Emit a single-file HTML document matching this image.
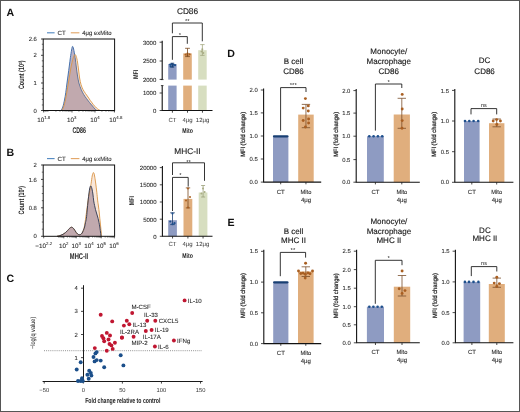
<!DOCTYPE html>
<html><head><meta charset="utf-8"><style>
html,body{margin:0;padding:0;background:#fff;}
svg{display:block;font-family:"Liberation Sans", sans-serif;will-change:transform;text-rendering:geometricPrecision;}
</style></head><body>
<svg width="520" height="412" viewBox="0 0 520 412">
<rect x="0" y="0" width="520" height="412" fill="#fff"/>
<text x="6.6" y="16.2" font-size="10.6" font-weight="bold" fill="#111">A</text>
<text x="6.6" y="155.9" font-size="10.6" font-weight="bold" fill="#111">B</text>
<text x="6.4" y="282.2" font-size="10.6" font-weight="bold" fill="#111">C</text>
<text x="227.2" y="56.6" font-size="10.6" font-weight="bold" fill="#111">D</text>
<text x="227.6" y="225.9" font-size="10.6" font-weight="bold" fill="#111">E</text>
<line x1="47" y1="32.8" x2="54.6" y2="32.8" stroke="#4f86c0" stroke-width="1.1"/>
<text x="57.6" y="35.03" font-size="6.2" text-anchor="start" fill="#2a2a2a" font-weight="normal" stroke="#2a2a2a" stroke-width="0.08">CT</text>
<line x1="70.8" y1="32.8" x2="79.4" y2="32.8" stroke="#e2a464" stroke-width="1.1"/>
<text x="82.3" y="35.03" font-size="6.2" text-anchor="start" fill="#2a2a2a" font-weight="normal" textLength="29.3" lengthAdjust="spacingAndGlyphs" stroke="#2a2a2a" stroke-width="0.08">4μg exMito</text>
<path d="M61.00,110.50 C61.30,109.92 62.22,108.75 62.80,107.00 C63.38,105.25 64.00,102.43 64.50,100.00 C65.00,97.57 65.38,95.23 65.80,92.40 C66.22,89.57 66.62,85.90 67.00,83.00 C67.38,80.10 67.72,77.83 68.10,75.00 C68.48,72.17 68.92,68.92 69.30,66.00 C69.68,63.08 70.02,60.17 70.40,57.50 C70.78,54.83 71.25,51.85 71.60,50.00 C71.95,48.15 72.17,46.57 72.50,46.40 C72.83,46.23 73.17,47.15 73.60,49.00 C74.03,50.85 74.65,54.50 75.10,57.50 C75.55,60.50 75.92,64.08 76.30,67.00 C76.68,69.92 76.97,72.33 77.40,75.00 C77.83,77.67 78.27,80.58 78.90,83.00 C79.53,85.42 80.40,87.58 81.20,89.50 C82.00,91.42 82.82,92.98 83.70,94.50 C84.58,96.02 85.53,97.27 86.50,98.60 C87.47,99.93 88.50,101.27 89.50,102.50 C90.50,103.73 91.53,104.87 92.50,106.00 C93.47,107.13 94.55,108.55 95.30,109.30 C96.05,110.05 96.72,110.30 97.00,110.50 Z" fill="rgba(110,95,140,0.48)"/>
<path d="M61.00,110.50 C61.30,109.92 62.22,108.75 62.80,107.00 C63.38,105.25 64.00,102.43 64.50,100.00 C65.00,97.57 65.38,95.23 65.80,92.40 C66.22,89.57 66.62,85.90 67.00,83.00 C67.38,80.10 67.72,77.83 68.10,75.00 C68.48,72.17 68.92,68.92 69.30,66.00 C69.68,63.08 70.02,60.17 70.40,57.50 C70.78,54.83 71.25,51.85 71.60,50.00 C71.95,48.15 72.17,46.57 72.50,46.40 C72.83,46.23 73.17,47.15 73.60,49.00 C74.03,50.85 74.65,54.50 75.10,57.50 C75.55,60.50 75.92,64.08 76.30,67.00 C76.68,69.92 76.97,72.33 77.40,75.00 C77.83,77.67 78.27,80.58 78.90,83.00 C79.53,85.42 80.40,87.58 81.20,89.50 C82.00,91.42 82.82,92.98 83.70,94.50 C84.58,96.02 85.53,97.27 86.50,98.60 C87.47,99.93 88.50,101.27 89.50,102.50 C90.50,103.73 91.53,104.87 92.50,106.00 C93.47,107.13 94.55,108.55 95.30,109.30 C96.05,110.05 96.72,110.30 97.00,110.50 " fill="none" stroke="#3566a6" stroke-width="0.9"/>
<path d="M62.00,110.50 C62.28,109.83 63.12,108.33 63.70,106.50 C64.28,104.67 64.92,102.25 65.50,99.50 C66.08,96.75 66.63,93.25 67.20,90.00 C67.77,86.75 68.35,83.33 68.90,80.00 C69.45,76.67 69.98,72.92 70.50,70.00 C71.02,67.08 71.50,64.67 72.00,62.50 C72.50,60.33 73.00,58.32 73.50,57.00 C74.00,55.68 74.53,54.68 75.00,54.60 C75.47,54.52 75.88,55.27 76.30,56.50 C76.72,57.73 77.12,59.75 77.50,62.00 C77.88,64.25 78.25,67.33 78.60,70.00 C78.95,72.67 79.20,75.58 79.60,78.00 C80.00,80.42 80.43,82.58 81.00,84.50 C81.57,86.42 82.25,88.00 83.00,89.50 C83.75,91.00 84.67,92.25 85.50,93.50 C86.33,94.75 87.20,95.83 88.00,97.00 C88.80,98.17 89.42,99.25 90.30,100.50 C91.18,101.75 92.27,103.25 93.30,104.50 C94.33,105.75 95.38,107.00 96.50,108.00 C97.62,109.00 99.42,110.08 100.00,110.50 Z" fill="rgba(225,135,70,0.2)"/>
<path d="M62.00,110.50 C62.28,109.83 63.12,108.33 63.70,106.50 C64.28,104.67 64.92,102.25 65.50,99.50 C66.08,96.75 66.63,93.25 67.20,90.00 C67.77,86.75 68.35,83.33 68.90,80.00 C69.45,76.67 69.98,72.92 70.50,70.00 C71.02,67.08 71.50,64.67 72.00,62.50 C72.50,60.33 73.00,58.32 73.50,57.00 C74.00,55.68 74.53,54.68 75.00,54.60 C75.47,54.52 75.88,55.27 76.30,56.50 C76.72,57.73 77.12,59.75 77.50,62.00 C77.88,64.25 78.25,67.33 78.60,70.00 C78.95,72.67 79.20,75.58 79.60,78.00 C80.00,80.42 80.43,82.58 81.00,84.50 C81.57,86.42 82.25,88.00 83.00,89.50 C83.75,91.00 84.67,92.25 85.50,93.50 C86.33,94.75 87.20,95.83 88.00,97.00 C88.80,98.17 89.42,99.25 90.30,100.50 C91.18,101.75 92.27,103.25 93.30,104.50 C94.33,105.75 95.38,107.00 96.50,108.00 C97.62,109.00 99.42,110.08 100.00,110.50 " fill="none" stroke="#d99445" stroke-width="0.9"/>
<rect x="43.2" y="39.0" width="71.39999999999999" height="71.5" fill="none" stroke="#111" stroke-width="1"/>
<line x1="41.0" y1="110.5" x2="43.2" y2="110.5" stroke="#1a1a1a" stroke-width="0.8"/>
<text x="36.900000000000006" y="112.62" font-size="5.9" text-anchor="end" fill="#2a2a2a" font-weight="normal" stroke="#2a2a2a" stroke-width="0.08">0</text>
<line x1="41.0" y1="83" x2="43.2" y2="83" stroke="#1a1a1a" stroke-width="0.8"/>
<text x="36.900000000000006" y="85.12" font-size="5.9" text-anchor="end" fill="#2a2a2a" font-weight="normal" stroke="#2a2a2a" stroke-width="0.08">1</text>
<line x1="41.0" y1="55.3" x2="43.2" y2="55.3" stroke="#1a1a1a" stroke-width="0.8"/>
<text x="36.900000000000006" y="57.42" font-size="5.9" text-anchor="end" fill="#2a2a2a" font-weight="normal" stroke="#2a2a2a" stroke-width="0.08">2</text>
<line x1="41.0" y1="39.0" x2="43.2" y2="39.0" stroke="#1a1a1a" stroke-width="0.8"/>
<text x="36.900000000000006" y="41.12" font-size="5.9" text-anchor="end" fill="#2a2a2a" font-weight="normal" stroke="#2a2a2a" stroke-width="0.08">2.6</text>
<line x1="41.800000000000004" y1="104.98" x2="43.2" y2="104.98" stroke="#1a1a1a" stroke-width="0.6"/>
<line x1="41.800000000000004" y1="99.46" x2="43.2" y2="99.46" stroke="#1a1a1a" stroke-width="0.6"/>
<line x1="41.800000000000004" y1="93.94" x2="43.2" y2="93.94" stroke="#1a1a1a" stroke-width="0.6"/>
<line x1="41.800000000000004" y1="88.42" x2="43.2" y2="88.42" stroke="#1a1a1a" stroke-width="0.6"/>
<line x1="41.800000000000004" y1="77.38" x2="43.2" y2="77.38" stroke="#1a1a1a" stroke-width="0.6"/>
<line x1="41.800000000000004" y1="71.86" x2="43.2" y2="71.86" stroke="#1a1a1a" stroke-width="0.6"/>
<line x1="41.800000000000004" y1="66.34" x2="43.2" y2="66.34" stroke="#1a1a1a" stroke-width="0.6"/>
<line x1="41.800000000000004" y1="60.81999999999999" x2="43.2" y2="60.81999999999999" stroke="#1a1a1a" stroke-width="0.6"/>
<line x1="41.800000000000004" y1="49.779999999999994" x2="43.2" y2="49.779999999999994" stroke="#1a1a1a" stroke-width="0.6"/>
<line x1="41.800000000000004" y1="44.260000000000005" x2="43.2" y2="44.260000000000005" stroke="#1a1a1a" stroke-width="0.6"/>
<line x1="43.89747875882381" y1="110.5" x2="43.89747875882381" y2="111.8" stroke="#1a1a1a" stroke-width="0.5"/>
<line x1="45.4372549203279" y1="110.5" x2="45.4372549203279" y2="111.8" stroke="#1a1a1a" stroke-width="0.5"/>
<line x1="46.77106970081471" y1="110.5" x2="46.77106970081471" y2="111.8" stroke="#1a1a1a" stroke-width="0.5"/>
<line x1="47.94757771710447" y1="110.5" x2="47.94757771710447" y2="111.8" stroke="#1a1a1a" stroke-width="0.5"/>
<line x1="55.92368990027157" y1="110.5" x2="55.92368990027157" y2="111.8" stroke="#1a1a1a" stroke-width="0.5"/>
<line x1="59.97378885855224" y1="110.5" x2="59.97378885855224" y2="111.8" stroke="#1a1a1a" stroke-width="0.5"/>
<line x1="62.84737980054314" y1="110.5" x2="62.84737980054314" y2="111.8" stroke="#1a1a1a" stroke-width="0.5"/>
<line x1="65.07631009972843" y1="110.5" x2="65.07631009972843" y2="111.8" stroke="#1a1a1a" stroke-width="0.5"/>
<line x1="66.89747875882381" y1="110.5" x2="66.89747875882381" y2="111.8" stroke="#1a1a1a" stroke-width="0.5"/>
<line x1="68.4372549203279" y1="110.5" x2="68.4372549203279" y2="111.8" stroke="#1a1a1a" stroke-width="0.5"/>
<line x1="69.7710697008147" y1="110.5" x2="69.7710697008147" y2="111.8" stroke="#1a1a1a" stroke-width="0.5"/>
<line x1="70.94757771710448" y1="110.5" x2="70.94757771710448" y2="111.8" stroke="#1a1a1a" stroke-width="0.5"/>
<line x1="78.92368990027157" y1="110.5" x2="78.92368990027157" y2="111.8" stroke="#1a1a1a" stroke-width="0.5"/>
<line x1="82.97378885855224" y1="110.5" x2="82.97378885855224" y2="111.8" stroke="#1a1a1a" stroke-width="0.5"/>
<line x1="85.84737980054314" y1="110.5" x2="85.84737980054314" y2="111.8" stroke="#1a1a1a" stroke-width="0.5"/>
<line x1="88.07631009972843" y1="110.5" x2="88.07631009972843" y2="111.8" stroke="#1a1a1a" stroke-width="0.5"/>
<line x1="89.89747875882381" y1="110.5" x2="89.89747875882381" y2="111.8" stroke="#1a1a1a" stroke-width="0.5"/>
<line x1="91.4372549203279" y1="110.5" x2="91.4372549203279" y2="111.8" stroke="#1a1a1a" stroke-width="0.5"/>
<line x1="92.7710697008147" y1="110.5" x2="92.7710697008147" y2="111.8" stroke="#1a1a1a" stroke-width="0.5"/>
<line x1="93.94757771710448" y1="110.5" x2="93.94757771710448" y2="111.8" stroke="#1a1a1a" stroke-width="0.5"/>
<line x1="101.92368990027157" y1="110.5" x2="101.92368990027157" y2="111.8" stroke="#1a1a1a" stroke-width="0.5"/>
<line x1="105.97378885855224" y1="110.5" x2="105.97378885855224" y2="111.8" stroke="#1a1a1a" stroke-width="0.5"/>
<line x1="108.84737980054314" y1="110.5" x2="108.84737980054314" y2="111.8" stroke="#1a1a1a" stroke-width="0.5"/>
<line x1="111.07631009972843" y1="110.5" x2="111.07631009972843" y2="111.8" stroke="#1a1a1a" stroke-width="0.5"/>
<line x1="112.89747875882381" y1="110.5" x2="112.89747875882381" y2="111.8" stroke="#1a1a1a" stroke-width="0.5"/>
<line x1="114.4372549203279" y1="110.5" x2="114.4372549203279" y2="111.8" stroke="#1a1a1a" stroke-width="0.5"/>
<line x1="43.7" y1="110.5" x2="43.7" y2="112.5" stroke="#1a1a1a" stroke-width="0.7"/>
<text x="43.7" y="122.0" font-size="6.3" text-anchor="middle" fill="#2a2a2a" stroke="#2a2a2a" stroke-width="0.08">10<tspan font-size="4.3" dy="-2.7">1.8</tspan></text>
<line x1="72.0" y1="110.5" x2="72.0" y2="112.5" stroke="#1a1a1a" stroke-width="0.7"/>
<text x="71.6" y="122.0" font-size="6.3" text-anchor="middle" fill="#2a2a2a" stroke="#2a2a2a" stroke-width="0.08">10<tspan font-size="4.3" dy="-2.7">3</tspan></text>
<line x1="95.0" y1="110.5" x2="95.0" y2="112.5" stroke="#1a1a1a" stroke-width="0.7"/>
<text x="94.9" y="122.0" font-size="6.3" text-anchor="middle" fill="#2a2a2a" stroke="#2a2a2a" stroke-width="0.08">10<tspan font-size="4.3" dy="-2.7">4</tspan></text>
<line x1="114.4" y1="110.5" x2="114.4" y2="112.5" stroke="#1a1a1a" stroke-width="0.7"/>
<text x="115.8" y="122.0" font-size="6.3" text-anchor="middle" fill="#2a2a2a" stroke="#2a2a2a" stroke-width="0.08">10<tspan font-size="4.3" dy="-2.7">4.8</tspan></text>
<text x="79.1" y="132.89" font-size="8.3" text-anchor="middle" fill="#222" font-weight="bold" textLength="13.4" lengthAdjust="spacingAndGlyphs">CD86</text>
<text transform="translate(24.2,74.8) rotate(-90)" x="0" y="0" font-size="7.8" text-anchor="middle" fill="#222" font-weight="bold" textLength="28.5" lengthAdjust="spacingAndGlyphs">Count (10<tspan font-size="4.4" dy="-2.4">3</tspan><tspan dy="2.4">)</tspan></text>
<line x1="47" y1="158.6" x2="54.6" y2="158.6" stroke="#4f86c0" stroke-width="1.1"/>
<text x="57.6" y="160.83" font-size="6.2" text-anchor="start" fill="#2a2a2a" font-weight="normal" stroke="#2a2a2a" stroke-width="0.08">CT</text>
<line x1="70.8" y1="158.6" x2="79.4" y2="158.6" stroke="#e2a464" stroke-width="1.1"/>
<text x="82.3" y="160.83" font-size="6.2" text-anchor="start" fill="#2a2a2a" font-weight="normal" textLength="29.3" lengthAdjust="spacingAndGlyphs" stroke="#2a2a2a" stroke-width="0.08">4μg exMito</text>
<path d="M57.00,236.30 C57.50,236.18 59.00,235.93 60.00,235.60 C61.00,235.27 62.08,234.80 63.00,234.30 C63.92,233.80 64.75,233.22 65.50,232.60 C66.25,231.98 66.87,231.27 67.50,230.60 C68.13,229.93 68.80,229.10 69.30,228.60 C69.80,228.10 70.13,227.83 70.50,227.60 C70.87,227.37 71.15,227.20 71.50,227.20 C71.85,227.20 72.22,227.33 72.60,227.60 C72.98,227.87 73.40,228.30 73.80,228.80 C74.20,229.30 74.58,229.97 75.00,230.60 C75.42,231.23 75.87,232.03 76.30,232.60 C76.73,233.17 77.15,233.65 77.60,234.00 C78.05,234.35 78.52,234.62 79.00,234.70 C79.48,234.78 80.00,234.75 80.50,234.50 C81.00,234.25 81.53,233.87 82.00,233.20 C82.47,232.53 82.87,231.53 83.30,230.50 C83.73,229.47 84.23,228.33 84.60,227.00 C84.97,225.67 85.20,223.93 85.50,222.50 C85.80,221.07 86.12,220.48 86.40,218.40 C86.68,216.32 86.92,212.92 87.20,210.00 C87.48,207.08 87.80,203.73 88.10,200.90 C88.40,198.07 88.72,195.15 89.00,193.00 C89.28,190.85 89.53,189.17 89.80,188.00 C90.07,186.83 90.35,186.23 90.60,186.00 C90.85,185.77 91.07,186.10 91.30,186.60 C91.53,187.10 91.73,187.77 92.00,189.00 C92.27,190.23 92.62,192.02 92.90,194.00 C93.18,195.98 93.42,198.98 93.70,200.90 C93.98,202.82 94.30,204.05 94.60,205.50 C94.90,206.95 95.13,208.18 95.50,209.60 C95.87,211.02 96.37,212.53 96.80,214.00 C97.23,215.47 97.73,216.98 98.10,218.40 C98.47,219.82 98.72,221.07 99.00,222.50 C99.28,223.93 99.58,225.67 99.80,227.00 C100.02,228.33 100.15,229.43 100.30,230.50 C100.45,231.57 100.58,232.43 100.70,233.40 C100.82,234.37 100.95,235.82 101.00,236.30 Z" fill="rgba(110,95,140,0.48)"/>
<path d="M57.00,236.30 C57.50,236.18 59.00,235.93 60.00,235.60 C61.00,235.27 62.08,234.80 63.00,234.30 C63.92,233.80 64.75,233.22 65.50,232.60 C66.25,231.98 66.87,231.27 67.50,230.60 C68.13,229.93 68.80,229.10 69.30,228.60 C69.80,228.10 70.13,227.83 70.50,227.60 C70.87,227.37 71.15,227.20 71.50,227.20 C71.85,227.20 72.22,227.33 72.60,227.60 C72.98,227.87 73.40,228.30 73.80,228.80 C74.20,229.30 74.58,229.97 75.00,230.60 C75.42,231.23 75.87,232.03 76.30,232.60 C76.73,233.17 77.15,233.65 77.60,234.00 C78.05,234.35 78.52,234.62 79.00,234.70 C79.48,234.78 80.00,234.75 80.50,234.50 C81.00,234.25 81.53,233.87 82.00,233.20 C82.47,232.53 82.92,231.53 83.30,230.50 C83.68,229.47 83.93,228.83 84.30,227.00 C84.67,225.17 85.08,222.33 85.50,219.50 C85.92,216.67 86.38,213.08 86.80,210.00 C87.22,206.92 87.67,203.33 88.00,201.00 C88.33,198.67 88.48,197.75 88.80,196.00 C89.12,194.25 89.62,192.00 89.90,190.50 C90.18,189.00 90.30,188.17 90.50,187.00 C90.70,185.83 90.82,185.33 91.10,183.50 C91.38,181.67 91.88,177.72 92.20,176.00 C92.52,174.28 92.78,173.77 93.00,173.20 C93.22,172.63 93.30,172.47 93.50,172.60 C93.70,172.73 93.95,173.02 94.20,174.00 C94.45,174.98 94.73,176.83 95.00,178.50 C95.27,180.17 95.50,181.72 95.80,184.00 C96.10,186.28 96.48,189.38 96.80,192.20 C97.12,195.02 97.45,198.77 97.70,200.90 C97.95,203.03 98.10,203.55 98.30,205.00 C98.50,206.45 98.72,208.10 98.90,209.60 C99.08,211.10 99.25,212.53 99.40,214.00 C99.55,215.47 99.65,216.90 99.80,218.40 C99.95,219.90 100.15,221.57 100.30,223.00 C100.45,224.43 100.55,225.50 100.70,227.00 C100.85,228.50 101.05,230.45 101.20,232.00 C101.35,233.55 101.53,235.58 101.60,236.30 Z" fill="rgba(225,135,70,0.2)"/>
<path d="M57.00,236.30 C57.50,236.18 59.00,235.93 60.00,235.60 C61.00,235.27 62.08,234.80 63.00,234.30 C63.92,233.80 64.75,233.22 65.50,232.60 C66.25,231.98 66.87,231.27 67.50,230.60 C68.13,229.93 68.80,229.10 69.30,228.60 C69.80,228.10 70.13,227.83 70.50,227.60 C70.87,227.37 71.15,227.20 71.50,227.20 C71.85,227.20 72.22,227.33 72.60,227.60 C72.98,227.87 73.40,228.30 73.80,228.80 C74.20,229.30 74.58,229.97 75.00,230.60 C75.42,231.23 75.87,232.03 76.30,232.60 C76.73,233.17 77.15,233.65 77.60,234.00 C78.05,234.35 78.52,234.62 79.00,234.70 C79.48,234.78 80.00,234.75 80.50,234.50 C81.00,234.25 81.53,233.87 82.00,233.20 C82.47,232.53 82.92,231.53 83.30,230.50 C83.68,229.47 83.93,228.83 84.30,227.00 C84.67,225.17 85.08,222.33 85.50,219.50 C85.92,216.67 86.38,213.08 86.80,210.00 C87.22,206.92 87.67,203.33 88.00,201.00 C88.33,198.67 88.48,197.75 88.80,196.00 C89.12,194.25 89.62,192.00 89.90,190.50 C90.18,189.00 90.30,188.17 90.50,187.00 C90.70,185.83 90.82,185.33 91.10,183.50 C91.38,181.67 91.88,177.72 92.20,176.00 C92.52,174.28 92.78,173.77 93.00,173.20 C93.22,172.63 93.30,172.47 93.50,172.60 C93.70,172.73 93.95,173.02 94.20,174.00 C94.45,174.98 94.73,176.83 95.00,178.50 C95.27,180.17 95.50,181.72 95.80,184.00 C96.10,186.28 96.48,189.38 96.80,192.20 C97.12,195.02 97.45,198.77 97.70,200.90 C97.95,203.03 98.10,203.55 98.30,205.00 C98.50,206.45 98.72,208.10 98.90,209.60 C99.08,211.10 99.25,212.53 99.40,214.00 C99.55,215.47 99.65,216.90 99.80,218.40 C99.95,219.90 100.15,221.57 100.30,223.00 C100.45,224.43 100.55,225.50 100.70,227.00 C100.85,228.50 101.05,230.45 101.20,232.00 C101.35,233.55 101.53,235.58 101.60,236.30 " fill="none" stroke="#d99445" stroke-width="0.9"/>
<path d="M57.00,236.30 C57.50,236.18 59.00,235.93 60.00,235.60 C61.00,235.27 62.08,234.80 63.00,234.30 C63.92,233.80 64.75,233.22 65.50,232.60 C66.25,231.98 66.87,231.27 67.50,230.60 C68.13,229.93 68.80,229.10 69.30,228.60 C69.80,228.10 70.13,227.83 70.50,227.60 C70.87,227.37 71.15,227.20 71.50,227.20 C71.85,227.20 72.22,227.33 72.60,227.60 C72.98,227.87 73.40,228.30 73.80,228.80 C74.20,229.30 74.58,229.97 75.00,230.60 C75.42,231.23 75.87,232.03 76.30,232.60 C76.73,233.17 77.15,233.65 77.60,234.00 C78.05,234.35 78.52,234.62 79.00,234.70 C79.48,234.78 80.00,234.75 80.50,234.50 C81.00,234.25 81.53,233.87 82.00,233.20 C82.47,232.53 82.87,231.53 83.30,230.50 C83.73,229.47 84.23,228.33 84.60,227.00 C84.97,225.67 85.20,223.93 85.50,222.50 C85.80,221.07 86.12,220.48 86.40,218.40 C86.68,216.32 86.92,212.92 87.20,210.00 C87.48,207.08 87.80,203.73 88.10,200.90 C88.40,198.07 88.72,195.15 89.00,193.00 C89.28,190.85 89.53,189.17 89.80,188.00 C90.07,186.83 90.35,186.23 90.60,186.00 C90.85,185.77 91.07,186.10 91.30,186.60 C91.53,187.10 91.73,187.77 92.00,189.00 C92.27,190.23 92.62,192.02 92.90,194.00 C93.18,195.98 93.42,198.98 93.70,200.90 C93.98,202.82 94.30,204.05 94.60,205.50 C94.90,206.95 95.13,208.18 95.50,209.60 C95.87,211.02 96.37,212.53 96.80,214.00 C97.23,215.47 97.73,216.98 98.10,218.40 C98.47,219.82 98.72,221.07 99.00,222.50 C99.28,223.93 99.58,225.67 99.80,227.00 C100.02,228.33 100.15,229.43 100.30,230.50 C100.45,231.57 100.58,232.43 100.70,233.40 C100.82,234.37 100.95,235.82 101.00,236.30 " fill="none" stroke="#2c3550" stroke-width="0.9"/>
<rect x="43.2" y="165.0" width="71.39999999999999" height="71.30000000000001" fill="none" stroke="#111" stroke-width="1"/>
<line x1="41.0" y1="236.3" x2="43.2" y2="236.3" stroke="#1a1a1a" stroke-width="0.8"/>
<text x="36.900000000000006" y="238.42" font-size="5.9" text-anchor="end" fill="#2a2a2a" font-weight="normal" stroke="#2a2a2a" stroke-width="0.08">0</text>
<line x1="41.0" y1="207.8" x2="43.2" y2="207.8" stroke="#1a1a1a" stroke-width="0.8"/>
<text x="36.900000000000006" y="209.92" font-size="5.9" text-anchor="end" fill="#2a2a2a" font-weight="normal" stroke="#2a2a2a" stroke-width="0.08">0.8</text>
<line x1="41.0" y1="179.4" x2="43.2" y2="179.4" stroke="#1a1a1a" stroke-width="0.8"/>
<text x="36.900000000000006" y="181.52" font-size="5.9" text-anchor="end" fill="#2a2a2a" font-weight="normal" stroke="#2a2a2a" stroke-width="0.08">1.6</text>
<line x1="41.0" y1="165.0" x2="43.2" y2="165.0" stroke="#1a1a1a" stroke-width="0.8"/>
<text x="36.900000000000006" y="167.12" font-size="5.9" text-anchor="end" fill="#2a2a2a" font-weight="normal" stroke="#2a2a2a" stroke-width="0.08">2</text>
<line x1="41.800000000000004" y1="229.17000000000002" x2="43.2" y2="229.17000000000002" stroke="#1a1a1a" stroke-width="0.6"/>
<line x1="41.800000000000004" y1="222.04000000000002" x2="43.2" y2="222.04000000000002" stroke="#1a1a1a" stroke-width="0.6"/>
<line x1="41.800000000000004" y1="214.91000000000003" x2="43.2" y2="214.91000000000003" stroke="#1a1a1a" stroke-width="0.6"/>
<line x1="41.800000000000004" y1="200.65" x2="43.2" y2="200.65" stroke="#1a1a1a" stroke-width="0.6"/>
<line x1="41.800000000000004" y1="193.52" x2="43.2" y2="193.52" stroke="#1a1a1a" stroke-width="0.6"/>
<line x1="41.800000000000004" y1="186.39000000000001" x2="43.2" y2="186.39000000000001" stroke="#1a1a1a" stroke-width="0.6"/>
<line x1="41.800000000000004" y1="172.13" x2="43.2" y2="172.13" stroke="#1a1a1a" stroke-width="0.6"/>
<line x1="58.58595589073233" y1="236.3" x2="58.58595589073233" y2="237.60000000000002" stroke="#1a1a1a" stroke-width="0.5"/>
<line x1="59.80702205463383" y1="236.3" x2="59.80702205463383" y2="237.60000000000002" stroke="#1a1a1a" stroke-width="0.5"/>
<line x1="60.80470575483391" y1="236.3" x2="60.80470575483391" y2="237.60000000000002" stroke="#1a1a1a" stroke-width="0.5"/>
<line x1="61.648235304179636" y1="236.3" x2="61.648235304179636" y2="237.60000000000002" stroke="#1a1a1a" stroke-width="0.5"/>
<line x1="62.37893383609849" y1="236.3" x2="62.37893383609849" y2="237.60000000000002" stroke="#1a1a1a" stroke-width="0.5"/>
<line x1="63.02345561893549" y1="236.3" x2="63.02345561893549" y2="237.60000000000002" stroke="#1a1a1a" stroke-width="0.5"/>
<line x1="67.39297794536617" y1="236.3" x2="67.39297794536617" y2="237.60000000000002" stroke="#1a1a1a" stroke-width="0.5"/>
<line x1="69.61172780946775" y1="236.3" x2="69.61172780946775" y2="237.60000000000002" stroke="#1a1a1a" stroke-width="0.5"/>
<line x1="71.18595589073233" y1="236.3" x2="71.18595589073233" y2="237.60000000000002" stroke="#1a1a1a" stroke-width="0.5"/>
<line x1="72.40702205463384" y1="236.3" x2="72.40702205463384" y2="237.60000000000002" stroke="#1a1a1a" stroke-width="0.5"/>
<line x1="73.40470575483391" y1="236.3" x2="73.40470575483391" y2="237.60000000000002" stroke="#1a1a1a" stroke-width="0.5"/>
<line x1="74.24823530417964" y1="236.3" x2="74.24823530417964" y2="237.60000000000002" stroke="#1a1a1a" stroke-width="0.5"/>
<line x1="74.97893383609849" y1="236.3" x2="74.97893383609849" y2="237.60000000000002" stroke="#1a1a1a" stroke-width="0.5"/>
<line x1="75.6234556189355" y1="236.3" x2="75.6234556189355" y2="237.60000000000002" stroke="#1a1a1a" stroke-width="0.5"/>
<line x1="79.99297794536616" y1="236.3" x2="79.99297794536616" y2="237.60000000000002" stroke="#1a1a1a" stroke-width="0.5"/>
<line x1="82.21172780946775" y1="236.3" x2="82.21172780946775" y2="237.60000000000002" stroke="#1a1a1a" stroke-width="0.5"/>
<line x1="83.78595589073232" y1="236.3" x2="83.78595589073232" y2="237.60000000000002" stroke="#1a1a1a" stroke-width="0.5"/>
<line x1="85.00702205463384" y1="236.3" x2="85.00702205463384" y2="237.60000000000002" stroke="#1a1a1a" stroke-width="0.5"/>
<line x1="86.0047057548339" y1="236.3" x2="86.0047057548339" y2="237.60000000000002" stroke="#1a1a1a" stroke-width="0.5"/>
<line x1="86.84823530417964" y1="236.3" x2="86.84823530417964" y2="237.60000000000002" stroke="#1a1a1a" stroke-width="0.5"/>
<line x1="87.57893383609849" y1="236.3" x2="87.57893383609849" y2="237.60000000000002" stroke="#1a1a1a" stroke-width="0.5"/>
<line x1="88.2234556189355" y1="236.3" x2="88.2234556189355" y2="237.60000000000002" stroke="#1a1a1a" stroke-width="0.5"/>
<line x1="92.59297794536616" y1="236.3" x2="92.59297794536616" y2="237.60000000000002" stroke="#1a1a1a" stroke-width="0.5"/>
<line x1="94.81172780946774" y1="236.3" x2="94.81172780946774" y2="237.60000000000002" stroke="#1a1a1a" stroke-width="0.5"/>
<line x1="96.38595589073232" y1="236.3" x2="96.38595589073232" y2="237.60000000000002" stroke="#1a1a1a" stroke-width="0.5"/>
<line x1="97.60702205463383" y1="236.3" x2="97.60702205463383" y2="237.60000000000002" stroke="#1a1a1a" stroke-width="0.5"/>
<line x1="98.6047057548339" y1="236.3" x2="98.6047057548339" y2="237.60000000000002" stroke="#1a1a1a" stroke-width="0.5"/>
<line x1="99.44823530417963" y1="236.3" x2="99.44823530417963" y2="237.60000000000002" stroke="#1a1a1a" stroke-width="0.5"/>
<line x1="100.17893383609848" y1="236.3" x2="100.17893383609848" y2="237.60000000000002" stroke="#1a1a1a" stroke-width="0.5"/>
<line x1="100.8234556189355" y1="236.3" x2="100.8234556189355" y2="237.60000000000002" stroke="#1a1a1a" stroke-width="0.5"/>
<line x1="105.19297794536617" y1="236.3" x2="105.19297794536617" y2="237.60000000000002" stroke="#1a1a1a" stroke-width="0.5"/>
<line x1="107.41172780946775" y1="236.3" x2="107.41172780946775" y2="237.60000000000002" stroke="#1a1a1a" stroke-width="0.5"/>
<line x1="108.98595589073233" y1="236.3" x2="108.98595589073233" y2="237.60000000000002" stroke="#1a1a1a" stroke-width="0.5"/>
<line x1="110.20702205463384" y1="236.3" x2="110.20702205463384" y2="237.60000000000002" stroke="#1a1a1a" stroke-width="0.5"/>
<line x1="111.20470575483391" y1="236.3" x2="111.20470575483391" y2="237.60000000000002" stroke="#1a1a1a" stroke-width="0.5"/>
<line x1="112.04823530417964" y1="236.3" x2="112.04823530417964" y2="237.60000000000002" stroke="#1a1a1a" stroke-width="0.5"/>
<line x1="112.77893383609849" y1="236.3" x2="112.77893383609849" y2="237.60000000000002" stroke="#1a1a1a" stroke-width="0.5"/>
<line x1="113.42345561893549" y1="236.3" x2="113.42345561893549" y2="237.60000000000002" stroke="#1a1a1a" stroke-width="0.5"/>
<line x1="43.7" y1="236.3" x2="43.7" y2="238.3" stroke="#1a1a1a" stroke-width="0.7"/>
<text x="43.7" y="247.8" font-size="6.3" text-anchor="middle" fill="#2a2a2a" stroke="#2a2a2a" stroke-width="0.08">−10<tspan font-size="4.3" dy="-2.7">2.2</tspan></text>
<line x1="63.8" y1="236.3" x2="63.8" y2="238.3" stroke="#1a1a1a" stroke-width="0.7"/>
<text x="63.8" y="247.8" font-size="6.3" text-anchor="middle" fill="#2a2a2a" stroke="#2a2a2a" stroke-width="0.08">10<tspan font-size="4.3" dy="-2.7">2</tspan></text>
<line x1="76.2" y1="236.3" x2="76.2" y2="238.3" stroke="#1a1a1a" stroke-width="0.7"/>
<text x="76.2" y="247.8" font-size="6.3" text-anchor="middle" fill="#2a2a2a" stroke="#2a2a2a" stroke-width="0.08">10<tspan font-size="4.3" dy="-2.7">3</tspan></text>
<line x1="88.9" y1="236.3" x2="88.9" y2="238.3" stroke="#1a1a1a" stroke-width="0.7"/>
<text x="88.9" y="247.8" font-size="6.3" text-anchor="middle" fill="#2a2a2a" stroke="#2a2a2a" stroke-width="0.08">10<tspan font-size="4.3" dy="-2.7">4</tspan></text>
<line x1="101.2" y1="236.3" x2="101.2" y2="238.3" stroke="#1a1a1a" stroke-width="0.7"/>
<text x="101.2" y="247.8" font-size="6.3" text-anchor="middle" fill="#2a2a2a" stroke="#2a2a2a" stroke-width="0.08">10<tspan font-size="4.3" dy="-2.7">5</tspan></text>
<line x1="114.4" y1="236.3" x2="114.4" y2="238.3" stroke="#1a1a1a" stroke-width="0.7"/>
<text x="114.0" y="247.8" font-size="6.3" text-anchor="middle" fill="#2a2a2a" stroke="#2a2a2a" stroke-width="0.08">10<tspan font-size="4.3" dy="-2.7">6</tspan></text>
<text x="79.0" y="258.69" font-size="8.3" text-anchor="middle" fill="#222" font-weight="bold" textLength="18.3" lengthAdjust="spacingAndGlyphs">MHC-II</text>
<text transform="translate(24.2,200.2) rotate(-90)" x="0" y="0" font-size="7.8" text-anchor="middle" fill="#222" font-weight="bold" textLength="28.5" lengthAdjust="spacingAndGlyphs">Count (10<tspan font-size="4.4" dy="-2.4">3</tspan><tspan dy="2.4">)</tspan></text>
<rect x="168.2" y="64.0" width="8.400000000000006" height="46.5" fill="#8e9bc2"/>
<rect x="183.2" y="53.4" width="8.600000000000023" height="57.1" fill="#e0ae7d"/>
<rect x="198.2" y="50.2" width="8.5" height="60.3" fill="#d7dec0"/>
<rect x="163.2" y="79.6" width="50.30000000000001" height="6.0" fill="#fff"/>
<line x1="162.2" y1="40.7" x2="162.2" y2="79.6" stroke="#111" stroke-width="1.1"/>
<line x1="162.2" y1="85.6" x2="162.2" y2="110.5" stroke="#111" stroke-width="1.1"/>
<line x1="160.89999999999998" y1="79.6" x2="163.5" y2="79.6" stroke="#1a1a1a" stroke-width="0.8"/>
<line x1="160.89999999999998" y1="85.6" x2="163.5" y2="85.6" stroke="#1a1a1a" stroke-width="0.8"/>
<line x1="161.75" y1="110.5" x2="212.5" y2="110.5" stroke="#111" stroke-width="1.1"/>
<line x1="159.6" y1="42.2" x2="162.2" y2="42.2" stroke="#1a1a1a" stroke-width="0.8"/>
<text x="156.29999999999998" y="44.56" font-size="6.0" text-anchor="end" fill="#2a2a2a" font-weight="normal" stroke="#2a2a2a" stroke-width="0.08">3000</text>
<line x1="159.6" y1="61.0" x2="162.2" y2="61.0" stroke="#1a1a1a" stroke-width="0.8"/>
<text x="156.29999999999998" y="63.36" font-size="6.0" text-anchor="end" fill="#2a2a2a" font-weight="normal" stroke="#2a2a2a" stroke-width="0.08">2500</text>
<line x1="159.6" y1="79.4" x2="162.2" y2="79.4" stroke="#1a1a1a" stroke-width="0.8"/>
<text x="156.29999999999998" y="81.76" font-size="6.0" text-anchor="end" fill="#2a2a2a" font-weight="normal" stroke="#2a2a2a" stroke-width="0.08">2000</text>
<line x1="159.6" y1="93.0" x2="162.2" y2="93.0" stroke="#1a1a1a" stroke-width="0.8"/>
<text x="156.29999999999998" y="95.36" font-size="6.0" text-anchor="end" fill="#2a2a2a" font-weight="normal" stroke="#2a2a2a" stroke-width="0.08">1000</text>
<line x1="159.6" y1="110.5" x2="162.2" y2="110.5" stroke="#1a1a1a" stroke-width="0.8"/>
<text x="156.29999999999998" y="112.86" font-size="6.0" text-anchor="end" fill="#2a2a2a" font-weight="normal" stroke="#2a2a2a" stroke-width="0.08">0</text>
<line x1="172.39999999999998" y1="110.5" x2="172.39999999999998" y2="112.7" stroke="#1a1a1a" stroke-width="0.8"/>
<line x1="187.5" y1="110.5" x2="187.5" y2="112.7" stroke="#1a1a1a" stroke-width="0.8"/>
<line x1="202.45" y1="110.5" x2="202.45" y2="112.7" stroke="#1a1a1a" stroke-width="0.8"/>
<text x="187.5" y="13.79" font-size="8.3" text-anchor="middle" fill="#1c1c1c" font-weight="normal" stroke="#1c1c1c" stroke-width="0.15">CD86</text>
<polyline points="172.4,33.3 172.4,23.0 202.3,23.0 202.3,41.3" fill="none" stroke="#1e1e1e" stroke-width="0.9" stroke-linejoin="round"/>
<text x="187.35000000000002" y="23.26" font-size="6" text-anchor="middle" fill="#222" font-weight="normal">**</text>
<polyline points="172.4,59.8 172.4,36.6 187.3,36.6 187.3,43.8" fill="none" stroke="#1e1e1e" stroke-width="0.9" stroke-linejoin="round"/>
<text x="179.85000000000002" y="36.66" font-size="6" text-anchor="middle" fill="#222" font-weight="normal">*</text>
<text transform="translate(137.6,74.3) rotate(-90)" x="0" y="0" font-size="6.8" text-anchor="middle" fill="#222" font-weight="bold" textLength="9.2" lengthAdjust="spacingAndGlyphs">MFI</text>
<text x="172.4" y="121.76" font-size="6" text-anchor="middle" fill="#333" font-weight="normal">CT</text>
<text x="187.6" y="121.76" font-size="6" text-anchor="middle" fill="#333" font-weight="normal">4μg</text>
<text x="202.6" y="121.76" font-size="6" text-anchor="middle" fill="#333" font-weight="normal">12μg</text>
<text x="187.5" y="132.55" font-size="6.8" text-anchor="middle" fill="#222" font-weight="bold" textLength="10.6" lengthAdjust="spacingAndGlyphs">Mito</text>
<circle cx="170.2" cy="64.6" r="1.1" fill="#1d4f8c"/>
<circle cx="171.8" cy="64.0" r="1.1" fill="#1d4f8c"/>
<circle cx="173.4" cy="64.6" r="1.1" fill="#1d4f8c"/>
<circle cx="175" cy="65.2" r="1.1" fill="#1d4f8c"/>
<circle cx="172.6" cy="66.2" r="1.1" fill="#1d4f8c"/>
<circle cx="170.6" cy="66.4" r="1.1" fill="#1d4f8c"/>
<line x1="172.4" y1="63.2" x2="172.4" y2="67.2" stroke="#1d3f70" stroke-width="0.8"/>
<line x1="170.6" y1="63.2" x2="174.20000000000002" y2="63.2" stroke="#1d3f70" stroke-width="0.8"/>
<line x1="170.6" y1="67.2" x2="174.20000000000002" y2="67.2" stroke="#1d3f70" stroke-width="0.8"/>
<circle cx="185.6" cy="54.6" r="1.1" fill="#a95f22"/>
<circle cx="187.5" cy="55.5" r="1.1" fill="#a95f22"/>
<circle cx="189.6" cy="54.3" r="1.1" fill="#a95f22"/>
<circle cx="187.5" cy="53.6" r="1.1" fill="#a95f22"/>
<line x1="187.5" y1="48.3" x2="187.5" y2="56.6" stroke="#7a4a1f" stroke-width="0.8"/>
<line x1="185.1" y1="48.3" x2="189.9" y2="48.3" stroke="#7a4a1f" stroke-width="0.8"/>
<line x1="185.1" y1="56.6" x2="189.9" y2="56.6" stroke="#7a4a1f" stroke-width="0.8"/>
<circle cx="201.5" cy="51.5" r="1.0" fill="#a9ad84"/>
<circle cx="203.3" cy="53.0" r="1.0" fill="#a9ad84"/>
<circle cx="202.3" cy="49.2" r="1.0" fill="#a9ad84"/>
<line x1="202.4" y1="44.6" x2="202.4" y2="55.4" stroke="#a3a880" stroke-width="0.8"/>
<line x1="200.20000000000002" y1="44.6" x2="204.6" y2="44.6" stroke="#a3a880" stroke-width="0.8"/>
<line x1="200.20000000000002" y1="55.4" x2="204.6" y2="55.4" stroke="#a3a880" stroke-width="0.8"/>
<rect x="168.2" y="220.2" width="8.700000000000017" height="16.100000000000023" fill="#8e9bc2"/>
<rect x="183.5" y="198.9" width="8.800000000000011" height="37.400000000000006" fill="#e0ae7d"/>
<rect x="198.7" y="192.5" width="8.700000000000017" height="43.80000000000001" fill="#d7dec0"/>
<line x1="162.4" y1="166.1" x2="162.4" y2="236.3" stroke="#111" stroke-width="1.1"/>
<line x1="161.95000000000002" y1="236.3" x2="212.5" y2="236.3" stroke="#111" stroke-width="1.1"/>
<line x1="159.8" y1="167.6" x2="162.4" y2="167.6" stroke="#1a1a1a" stroke-width="0.8"/>
<text x="156.5" y="169.96" font-size="6.0" text-anchor="end" fill="#2a2a2a" font-weight="normal" stroke="#2a2a2a" stroke-width="0.08">20000</text>
<line x1="159.8" y1="184.8" x2="162.4" y2="184.8" stroke="#1a1a1a" stroke-width="0.8"/>
<text x="156.5" y="187.16" font-size="6.0" text-anchor="end" fill="#2a2a2a" font-weight="normal" stroke="#2a2a2a" stroke-width="0.08">15000</text>
<line x1="159.8" y1="202.0" x2="162.4" y2="202.0" stroke="#1a1a1a" stroke-width="0.8"/>
<text x="156.5" y="204.36" font-size="6.0" text-anchor="end" fill="#2a2a2a" font-weight="normal" stroke="#2a2a2a" stroke-width="0.08">10000</text>
<line x1="159.8" y1="219.2" x2="162.4" y2="219.2" stroke="#1a1a1a" stroke-width="0.8"/>
<text x="156.5" y="221.56" font-size="6.0" text-anchor="end" fill="#2a2a2a" font-weight="normal" stroke="#2a2a2a" stroke-width="0.08">5000</text>
<line x1="159.8" y1="236.3" x2="162.4" y2="236.3" stroke="#1a1a1a" stroke-width="0.8"/>
<text x="156.5" y="238.66" font-size="6.0" text-anchor="end" fill="#2a2a2a" font-weight="normal" stroke="#2a2a2a" stroke-width="0.08">0</text>
<line x1="172.55" y1="236.3" x2="172.55" y2="238.5" stroke="#1a1a1a" stroke-width="0.8"/>
<line x1="187.9" y1="236.3" x2="187.9" y2="238.5" stroke="#1a1a1a" stroke-width="0.8"/>
<line x1="203.05" y1="236.3" x2="203.05" y2="238.5" stroke="#1a1a1a" stroke-width="0.8"/>
<text x="187.5" y="153.99" font-size="8.3" text-anchor="middle" fill="#1c1c1c" font-weight="normal" stroke="#1c1c1c" stroke-width="0.15">MHC-II</text>
<polyline points="172.5,175.0 172.5,162.8 204.5,162.8 204.5,180.8" fill="none" stroke="#1e1e1e" stroke-width="0.9" stroke-linejoin="round"/>
<text x="188.5" y="163.66" font-size="6" text-anchor="middle" fill="#222" font-weight="normal">**</text>
<polyline points="172.5,211.0 172.5,177.4 188.2,177.4 188.2,186.6" fill="none" stroke="#1e1e1e" stroke-width="0.9" stroke-linejoin="round"/>
<text x="180.35" y="177.06" font-size="6" text-anchor="middle" fill="#222" font-weight="normal">*</text>
<text transform="translate(134.3,200.6) rotate(-90)" x="0" y="0" font-size="6.8" text-anchor="middle" fill="#222" font-weight="bold" textLength="9.2" lengthAdjust="spacingAndGlyphs">MFI</text>
<text x="172.4" y="245.86" font-size="6" text-anchor="middle" fill="#333" font-weight="normal">CT</text>
<text x="187.6" y="245.86" font-size="6" text-anchor="middle" fill="#333" font-weight="normal">4μg</text>
<text x="202.6" y="245.86" font-size="6" text-anchor="middle" fill="#333" font-weight="normal">12μg</text>
<text x="187.5" y="258.45" font-size="6.8" text-anchor="middle" fill="#222" font-weight="bold" textLength="10.6" lengthAdjust="spacingAndGlyphs">Mito</text>
<line x1="172.5" y1="212.8" x2="172.5" y2="224.6" stroke="#1d3f70" stroke-width="0.8"/>
<line x1="170.2" y1="212.8" x2="174.8" y2="212.8" stroke="#1d3f70" stroke-width="0.8"/>
<line x1="170.2" y1="224.6" x2="174.8" y2="224.6" stroke="#1d3f70" stroke-width="0.8"/>
<circle cx="172.5" cy="213.5" r="1.1" fill="#1d4f8c"/>
<circle cx="170.3" cy="221.5" r="1.1" fill="#1d4f8c"/>
<circle cx="174.5" cy="223.2" r="1.1" fill="#1d4f8c"/>
<circle cx="172.5" cy="224.2" r="1.1" fill="#1d4f8c"/>
<line x1="188.0" y1="187.9" x2="188.0" y2="207.9" stroke="#7a4a1f" stroke-width="0.8"/>
<line x1="185.8" y1="187.9" x2="190.2" y2="187.9" stroke="#7a4a1f" stroke-width="0.8"/>
<line x1="185.8" y1="207.9" x2="190.2" y2="207.9" stroke="#7a4a1f" stroke-width="0.8"/>
<circle cx="188.0" cy="188.5" r="1.0" fill="#a95f22"/>
<circle cx="186.0" cy="200.5" r="1.0" fill="#a95f22"/>
<circle cx="190" cy="197" r="1.0" fill="#a95f22"/>
<circle cx="188" cy="207.5" r="1.0" fill="#a95f22"/>
<line x1="203.1" y1="185.5" x2="203.1" y2="197.0" stroke="#9aa07a" stroke-width="0.8"/>
<line x1="201.1" y1="185.5" x2="205.1" y2="185.5" stroke="#9aa07a" stroke-width="0.8"/>
<line x1="201.1" y1="197.0" x2="205.1" y2="197.0" stroke="#9aa07a" stroke-width="0.8"/>
<circle cx="203" cy="188.5" r="1.0" fill="#a9ad84"/>
<circle cx="201.4" cy="193.4" r="1.0" fill="#a9ad84"/>
<circle cx="204.6" cy="192" r="1.0" fill="#a9ad84"/>
<line x1="83.5" y1="285.2" x2="83.5" y2="381.5" stroke="#1a1a1a" stroke-width="1.0"/>
<line x1="42.6" y1="381.5" x2="202.6" y2="381.5" stroke="#1a1a1a" stroke-width="1.0"/>
<line x1="81.0" y1="357.65000000000003" x2="83.6" y2="357.65000000000003" stroke="#1a1a1a" stroke-width="0.8"/>
<text x="77.9" y="359.77" font-size="5.9" text-anchor="end" fill="#2a2a2a" font-weight="normal" stroke="#2a2a2a" stroke-width="0.08">1</text>
<line x1="81.0" y1="334.5" x2="83.6" y2="334.5" stroke="#1a1a1a" stroke-width="0.8"/>
<text x="77.9" y="336.62" font-size="5.9" text-anchor="end" fill="#2a2a2a" font-weight="normal" stroke="#2a2a2a" stroke-width="0.08">2</text>
<line x1="81.0" y1="311.35" x2="83.6" y2="311.35" stroke="#1a1a1a" stroke-width="0.8"/>
<text x="77.9" y="313.47" font-size="5.9" text-anchor="end" fill="#2a2a2a" font-weight="normal" stroke="#2a2a2a" stroke-width="0.08">3</text>
<line x1="81.0" y1="288.20000000000005" x2="83.6" y2="288.20000000000005" stroke="#1a1a1a" stroke-width="0.8"/>
<text x="77.9" y="290.32" font-size="5.9" text-anchor="end" fill="#2a2a2a" font-weight="normal" stroke="#2a2a2a" stroke-width="0.08">4</text>
<line x1="44.225" y1="381.5" x2="44.225" y2="383.6" stroke="#1a1a1a" stroke-width="0.8"/>
<text x="44.225" y="391.99" font-size="5.8" text-anchor="middle" fill="#333" font-weight="normal">−50</text>
<line x1="83.3" y1="381.5" x2="83.3" y2="383.6" stroke="#1a1a1a" stroke-width="0.8"/>
<text x="83.3" y="391.99" font-size="5.8" text-anchor="middle" fill="#333" font-weight="normal">0</text>
<line x1="122.375" y1="381.5" x2="122.375" y2="383.6" stroke="#1a1a1a" stroke-width="0.8"/>
<text x="122.375" y="391.99" font-size="5.8" text-anchor="middle" fill="#333" font-weight="normal">50</text>
<line x1="161.45" y1="381.5" x2="161.45" y2="383.6" stroke="#1a1a1a" stroke-width="0.8"/>
<text x="161.45" y="391.99" font-size="5.8" text-anchor="middle" fill="#333" font-weight="normal">100</text>
<line x1="200.52499999999998" y1="381.5" x2="200.52499999999998" y2="383.6" stroke="#1a1a1a" stroke-width="0.8"/>
<text x="200.52499999999998" y="391.99" font-size="5.8" text-anchor="middle" fill="#333" font-weight="normal">150</text>
<line x1="44" y1="350.7" x2="202" y2="350.7" stroke="#777" stroke-width="0.8" stroke-dasharray="1,1.1"/>
<text x="122.8" y="403.26" font-size="7.4" text-anchor="middle" fill="#222" font-weight="bold" textLength="75.2" lengthAdjust="spacingAndGlyphs">Fold change relative to control</text>
<text transform="translate(35.0,332.9) rotate(-90)" x="0" y="0" font-size="6.6" text-anchor="middle" fill="#222" textLength="32.4" lengthAdjust="spacingAndGlyphs">−log(q value)</text>
<circle cx="95.4" cy="353.4" r="1.95" fill="#1b4f8a"/>
<circle cx="96.7" cy="352.1" r="1.95" fill="#1b4f8a"/>
<circle cx="94.6" cy="361.4" r="1.95" fill="#1b4f8a"/>
<circle cx="96.7" cy="360.1" r="1.95" fill="#1b4f8a"/>
<circle cx="100.7" cy="360.6" r="1.95" fill="#1b4f8a"/>
<circle cx="104.2" cy="367.3" r="1.95" fill="#1b4f8a"/>
<circle cx="120.7" cy="355.3" r="1.95" fill="#1b4f8a"/>
<circle cx="123.4" cy="365.4" r="1.95" fill="#1b4f8a"/>
<circle cx="80.7" cy="362.2" r="1.95" fill="#1b4f8a"/>
<circle cx="76.7" cy="369.5" r="1.95" fill="#1b4f8a"/>
<circle cx="89.2" cy="370.8" r="1.95" fill="#1b4f8a"/>
<circle cx="90.8" cy="372.9" r="1.95" fill="#1b4f8a"/>
<circle cx="87.4" cy="374.8" r="1.95" fill="#1b4f8a"/>
<circle cx="91.4" cy="375.6" r="1.95" fill="#1b4f8a"/>
<circle cx="88.7" cy="378.8" r="1.95" fill="#1b4f8a"/>
<circle cx="82" cy="378.3" r="1.95" fill="#1b4f8a"/>
<circle cx="80.7" cy="381" r="1.95" fill="#1b4f8a"/>
<circle cx="78" cy="381" r="1.95" fill="#1b4f8a"/>
<circle cx="82.8" cy="381" r="1.95" fill="#1b4f8a"/>
<circle cx="93.5" cy="357" r="1.95" fill="#1b4f8a"/>
<circle cx="100.7" cy="314.7" r="1.95" fill="#c01631"/>
<circle cx="112.2" cy="321.4" r="1.95" fill="#c01631"/>
<circle cx="102" cy="336" r="1.95" fill="#c01631"/>
<circle cx="103.4" cy="338.2" r="1.95" fill="#c01631"/>
<circle cx="106.8" cy="332.9" r="1.95" fill="#c01631"/>
<circle cx="110" cy="335.5" r="1.95" fill="#c01631"/>
<circle cx="109.5" cy="344" r="1.95" fill="#c01631"/>
<circle cx="111.4" cy="345.4" r="1.95" fill="#c01631"/>
<circle cx="114.9" cy="342.8" r="1.95" fill="#c01631"/>
<circle cx="112.7" cy="348.9" r="1.95" fill="#c01631"/>
<circle cx="106.8" cy="350.8" r="1.95" fill="#c01631"/>
<circle cx="94.8" cy="348.1" r="1.95" fill="#c01631"/>
<circle cx="122" cy="337.4" r="1.95" fill="#c01631"/>
<circle cx="126.8" cy="320.7" r="1.95" fill="#c01631"/>
<circle cx="129.3" cy="324.2" r="1.95" fill="#c01631"/>
<circle cx="123.9" cy="325.6" r="1.95" fill="#c01631"/>
<circle cx="132.2" cy="313" r="1.95" fill="#c01631"/>
<circle cx="133.6" cy="336.8" r="1.95" fill="#c01631"/>
<circle cx="147.2" cy="320.7" r="1.95" fill="#c01631"/>
<circle cx="155.3" cy="320.7" r="1.95" fill="#c01631"/>
<circle cx="151.6" cy="330" r="1.95" fill="#c01631"/>
<circle cx="145.8" cy="331" r="1.95" fill="#c01631"/>
<circle cx="121.9" cy="337.8" r="1.95" fill="#c01631"/>
<circle cx="173.9" cy="340.5" r="1.95" fill="#c01631"/>
<circle cx="154.9" cy="346.5" r="1.95" fill="#c01631"/>
<circle cx="184.6" cy="300.4" r="1.95" fill="#c01631"/>
<circle cx="108.5" cy="339.5" r="1.95" fill="#c01631"/>
<circle cx="104.2" cy="341.2" r="1.95" fill="#c01631"/>
<text x="187.8" y="302.80" font-size="6.1" text-anchor="start" fill="#2a2a2a" font-weight="normal" stroke="#2a2a2a" stroke-width="0.08">IL-10</text>
<text x="131.4" y="308.60" font-size="6.1" text-anchor="start" fill="#2a2a2a" font-weight="normal" stroke="#2a2a2a" stroke-width="0.08">M-CSF</text>
<text x="144.1" y="317.30" font-size="6.1" text-anchor="start" fill="#2a2a2a" font-weight="normal" stroke="#2a2a2a" stroke-width="0.08">IL-33</text>
<text x="158.7" y="323.10" font-size="6.1" text-anchor="start" fill="#2a2a2a" font-weight="normal" stroke="#2a2a2a" stroke-width="0.08">CXCL5</text>
<text x="132.5" y="327.40" font-size="6.1" text-anchor="start" fill="#2a2a2a" font-weight="normal" stroke="#2a2a2a" stroke-width="0.08">IL-13</text>
<text x="154.8" y="332.40" font-size="6.1" text-anchor="start" fill="#2a2a2a" font-weight="normal" stroke="#2a2a2a" stroke-width="0.08">IL-19</text>
<text x="120.0" y="334.40" font-size="6.1" text-anchor="start" fill="#2a2a2a" font-weight="normal" stroke="#2a2a2a" stroke-width="0.08">IL-2RA</text>
<text x="142.8" y="339.20" font-size="6.1" text-anchor="start" fill="#2a2a2a" font-weight="normal" stroke="#2a2a2a" stroke-width="0.08">IL-17A</text>
<text x="131.5" y="344.80" font-size="6.1" text-anchor="start" fill="#2a2a2a" font-weight="normal" stroke="#2a2a2a" stroke-width="0.08">MIP-2</text>
<text x="177.1" y="342.90" font-size="6.1" text-anchor="start" fill="#2a2a2a" font-weight="normal" stroke="#2a2a2a" stroke-width="0.08">IFNg</text>
<text x="158.1" y="348.90" font-size="6.1" text-anchor="start" fill="#2a2a2a" font-weight="normal" stroke="#2a2a2a" stroke-width="0.08">IL-6</text>
<rect x="273.0" y="136.0" width="15.399999999999977" height="46.099999999999994" fill="#8e9bc2"/>
<rect x="298.2" y="114.6" width="15.5" height="67.5" fill="#e0ae7d"/>
<line x1="263.6" y1="88.5" x2="263.6" y2="182.1" stroke="#111" stroke-width="1.1"/>
<line x1="263.15000000000003" y1="182.1" x2="321.2" y2="182.1" stroke="#111" stroke-width="1.1"/>
<line x1="260.8" y1="182.1" x2="263.6" y2="182.1" stroke="#1a1a1a" stroke-width="0.8"/>
<text x="257.8" y="184.22" font-size="5.9" text-anchor="end" fill="#2a2a2a" font-weight="normal" stroke="#2a2a2a" stroke-width="0.08">0.0</text>
<line x1="260.8" y1="159.0" x2="263.6" y2="159.0" stroke="#1a1a1a" stroke-width="0.8"/>
<text x="257.8" y="161.12" font-size="5.9" text-anchor="end" fill="#2a2a2a" font-weight="normal" stroke="#2a2a2a" stroke-width="0.08">0.5</text>
<line x1="260.8" y1="136.0" x2="263.6" y2="136.0" stroke="#1a1a1a" stroke-width="0.8"/>
<text x="257.8" y="138.12" font-size="5.9" text-anchor="end" fill="#2a2a2a" font-weight="normal" stroke="#2a2a2a" stroke-width="0.08">1.0</text>
<line x1="260.8" y1="112.9" x2="263.6" y2="112.9" stroke="#1a1a1a" stroke-width="0.8"/>
<text x="257.8" y="115.02" font-size="5.9" text-anchor="end" fill="#2a2a2a" font-weight="normal" stroke="#2a2a2a" stroke-width="0.08">1.5</text>
<line x1="260.8" y1="90.0" x2="263.6" y2="90.0" stroke="#1a1a1a" stroke-width="0.8"/>
<text x="257.8" y="92.12" font-size="5.9" text-anchor="end" fill="#2a2a2a" font-weight="normal" stroke="#2a2a2a" stroke-width="0.08">2.0</text>
<line x1="280.7" y1="182.1" x2="280.7" y2="184.29999999999998" stroke="#1a1a1a" stroke-width="0.8"/>
<line x1="305.95" y1="182.1" x2="305.95" y2="184.29999999999998" stroke="#1a1a1a" stroke-width="0.8"/>
<text x="280.7" y="193.76" font-size="6.0" text-anchor="middle" fill="#2a2a2a" font-weight="normal" stroke="#2a2a2a" stroke-width="0.1">CT</text>
<text x="305.95" y="193.76" font-size="6.0" text-anchor="middle" fill="#2a2a2a" font-weight="normal" textLength="10.8" lengthAdjust="spacingAndGlyphs" stroke="#2a2a2a" stroke-width="0.1">Mito</text>
<text x="305.95" y="201.56" font-size="6.0" text-anchor="middle" fill="#2a2a2a" font-weight="normal" stroke="#2a2a2a" stroke-width="0.1">4μg</text>
<text x="293.45" y="63.58" font-size="8.0" text-anchor="middle" fill="#1c1c1c" font-weight="normal" stroke="#1c1c1c" stroke-width="0.15">B cell</text>
<text x="293.45" y="73.58" font-size="8.0" text-anchor="middle" fill="#1c1c1c" font-weight="normal" stroke="#1c1c1c" stroke-width="0.15">CD86</text>
<polyline points="280.6,130.8 280.6,87.6 306.0,87.6 306.0,92.0" fill="none" stroke="#1e1e1e" stroke-width="0.9" stroke-linejoin="round"/>
<text x="293.3" y="87.06" font-size="6" text-anchor="middle" fill="#222" font-weight="normal">***</text>
<text transform="translate(245.10000000000002,134.4) rotate(-90)" x="0" y="0" font-size="6.2" text-anchor="middle" fill="#222" stroke="#222" stroke-width="0.22" textLength="44.9" lengthAdjust="spacingAndGlyphs">MFI (fold change)</text>
<line x1="274.0" y1="136.35" x2="287.4" y2="136.35" stroke="#183f73" stroke-width="2.3" stroke-linecap="round"/>
<line x1="305.95" y1="104.4" x2="305.95" y2="127.7" stroke="#7a4f2c" stroke-width="0.8"/>
<line x1="301.75" y1="104.4" x2="310.15" y2="104.4" stroke="#7a4f2c" stroke-width="0.8"/>
<line x1="301.75" y1="127.7" x2="310.15" y2="127.7" stroke="#7a4f2c" stroke-width="0.8"/>
<circle cx="305.4" cy="98.6" r="1.45" fill="#a95f22"/>
<circle cx="308.3" cy="105.9" r="1.45" fill="#a95f22"/>
<circle cx="303.2" cy="108.1" r="1.45" fill="#a95f22"/>
<circle cx="308.3" cy="111" r="1.45" fill="#a95f22"/>
<circle cx="303.2" cy="120.5" r="1.45" fill="#a95f22"/>
<circle cx="308.6" cy="119" r="1.45" fill="#a95f22"/>
<circle cx="308.6" cy="123" r="1.45" fill="#a95f22"/>
<circle cx="305.4" cy="127" r="1.45" fill="#a95f22"/>
<rect x="367.0" y="136.2" width="16.80000000000001" height="46.0" fill="#8e9bc2"/>
<rect x="393.7" y="114.5" width="16.19999999999999" height="67.69999999999999" fill="#e0ae7d"/>
<line x1="356.2" y1="89.1" x2="356.2" y2="182.2" stroke="#111" stroke-width="1.1"/>
<line x1="355.75" y1="182.2" x2="419.8" y2="182.2" stroke="#111" stroke-width="1.1"/>
<line x1="353.4" y1="182.2" x2="356.2" y2="182.2" stroke="#1a1a1a" stroke-width="0.8"/>
<text x="350.4" y="184.32" font-size="5.9" text-anchor="end" fill="#2a2a2a" font-weight="normal" stroke="#2a2a2a" stroke-width="0.08">0.0</text>
<line x1="353.4" y1="159.6" x2="356.2" y2="159.6" stroke="#1a1a1a" stroke-width="0.8"/>
<text x="350.4" y="161.72" font-size="5.9" text-anchor="end" fill="#2a2a2a" font-weight="normal" stroke="#2a2a2a" stroke-width="0.08">0.5</text>
<line x1="353.4" y1="136.2" x2="356.2" y2="136.2" stroke="#1a1a1a" stroke-width="0.8"/>
<text x="350.4" y="138.32" font-size="5.9" text-anchor="end" fill="#2a2a2a" font-weight="normal" stroke="#2a2a2a" stroke-width="0.08">1.0</text>
<line x1="353.4" y1="113.1" x2="356.2" y2="113.1" stroke="#1a1a1a" stroke-width="0.8"/>
<text x="350.4" y="115.22" font-size="5.9" text-anchor="end" fill="#2a2a2a" font-weight="normal" stroke="#2a2a2a" stroke-width="0.08">1.5</text>
<line x1="353.4" y1="90.6" x2="356.2" y2="90.6" stroke="#1a1a1a" stroke-width="0.8"/>
<text x="350.4" y="92.72" font-size="5.9" text-anchor="end" fill="#2a2a2a" font-weight="normal" stroke="#2a2a2a" stroke-width="0.08">2.0</text>
<line x1="375.4" y1="182.2" x2="375.4" y2="184.39999999999998" stroke="#1a1a1a" stroke-width="0.8"/>
<line x1="401.79999999999995" y1="182.2" x2="401.79999999999995" y2="184.39999999999998" stroke="#1a1a1a" stroke-width="0.8"/>
<text x="375.4" y="193.86" font-size="6.0" text-anchor="middle" fill="#2a2a2a" font-weight="normal" stroke="#2a2a2a" stroke-width="0.1">CT</text>
<text x="401.79999999999995" y="193.86" font-size="6.0" text-anchor="middle" fill="#2a2a2a" font-weight="normal" textLength="10.8" lengthAdjust="spacingAndGlyphs" stroke="#2a2a2a" stroke-width="0.1">Mito</text>
<text x="401.79999999999995" y="201.66" font-size="6.0" text-anchor="middle" fill="#2a2a2a" font-weight="normal" stroke="#2a2a2a" stroke-width="0.1">4μg</text>
<text x="388.8" y="53.78" font-size="8.0" text-anchor="middle" fill="#1c1c1c" font-weight="normal" stroke="#1c1c1c" stroke-width="0.15">Monocyte/</text>
<text x="388.8" y="64.28" font-size="8.0" text-anchor="middle" fill="#1c1c1c" font-weight="normal" stroke="#1c1c1c" stroke-width="0.15">Macrophage</text>
<text x="388.8" y="73.98" font-size="8.0" text-anchor="middle" fill="#1c1c1c" font-weight="normal" stroke="#1c1c1c" stroke-width="0.15">CD86</text>
<polyline points="375.4,130.6 375.4,84.0 401.8,84.0 401.8,88.0" fill="none" stroke="#1e1e1e" stroke-width="0.9" stroke-linejoin="round"/>
<text x="388.6" y="84.06" font-size="6" text-anchor="middle" fill="#222" font-weight="normal">*</text>
<text transform="translate(337.7,134.4) rotate(-90)" x="0" y="0" font-size="6.2" text-anchor="middle" fill="#222" stroke="#222" stroke-width="0.22" textLength="44.9" lengthAdjust="spacingAndGlyphs">MFI (fold change)</text>
<circle cx="369.3" cy="136.2" r="1.3" fill="#1d4f8c"/>
<circle cx="373.6" cy="136.2" r="1.3" fill="#1d4f8c"/>
<circle cx="377.9" cy="136.2" r="1.3" fill="#1d4f8c"/>
<circle cx="382.2" cy="136.2" r="1.3" fill="#1d4f8c"/>
<line x1="401.79999999999995" y1="98.3" x2="401.79999999999995" y2="128.3" stroke="#7a4f2c" stroke-width="0.8"/>
<line x1="397.59999999999997" y1="98.3" x2="405.99999999999994" y2="98.3" stroke="#7a4f2c" stroke-width="0.8"/>
<line x1="397.59999999999997" y1="128.3" x2="405.99999999999994" y2="128.3" stroke="#7a4f2c" stroke-width="0.8"/>
<circle cx="402.2" cy="94.4" r="1.45" fill="#a95f22"/>
<circle cx="402.2" cy="109.0" r="1.45" fill="#a95f22"/>
<circle cx="402.2" cy="120.6" r="1.45" fill="#a95f22"/>
<circle cx="402.0" cy="128.3" r="1.45" fill="#a95f22"/>
<rect x="464.0" y="121.0" width="15.600000000000023" height="61.30000000000001" fill="#8e9bc2"/>
<rect x="489.0" y="123.2" width="15.399999999999977" height="59.10000000000001" fill="#e0ae7d"/>
<line x1="454.8" y1="88.9" x2="454.8" y2="182.3" stroke="#111" stroke-width="1.1"/>
<line x1="454.35" y1="182.3" x2="513.4" y2="182.3" stroke="#111" stroke-width="1.1"/>
<line x1="452.0" y1="182.3" x2="454.8" y2="182.3" stroke="#1a1a1a" stroke-width="0.8"/>
<text x="449.0" y="184.42" font-size="5.9" text-anchor="end" fill="#2a2a2a" font-weight="normal" stroke="#2a2a2a" stroke-width="0.08">0.0</text>
<line x1="452.0" y1="151.7" x2="454.8" y2="151.7" stroke="#1a1a1a" stroke-width="0.8"/>
<text x="449.0" y="153.82" font-size="5.9" text-anchor="end" fill="#2a2a2a" font-weight="normal" stroke="#2a2a2a" stroke-width="0.08">0.5</text>
<line x1="452.0" y1="121.0" x2="454.8" y2="121.0" stroke="#1a1a1a" stroke-width="0.8"/>
<text x="449.0" y="123.12" font-size="5.9" text-anchor="end" fill="#2a2a2a" font-weight="normal" stroke="#2a2a2a" stroke-width="0.08">1.0</text>
<line x1="452.0" y1="90.4" x2="454.8" y2="90.4" stroke="#1a1a1a" stroke-width="0.8"/>
<text x="449.0" y="92.52" font-size="5.9" text-anchor="end" fill="#2a2a2a" font-weight="normal" stroke="#2a2a2a" stroke-width="0.08">1.5</text>
<line x1="471.8" y1="182.3" x2="471.8" y2="184.5" stroke="#1a1a1a" stroke-width="0.8"/>
<line x1="496.7" y1="182.3" x2="496.7" y2="184.5" stroke="#1a1a1a" stroke-width="0.8"/>
<text x="471.8" y="193.96" font-size="6.0" text-anchor="middle" fill="#2a2a2a" font-weight="normal" stroke="#2a2a2a" stroke-width="0.1">CT</text>
<text x="496.7" y="193.96" font-size="6.0" text-anchor="middle" fill="#2a2a2a" font-weight="normal" textLength="10.8" lengthAdjust="spacingAndGlyphs" stroke="#2a2a2a" stroke-width="0.1">Mito</text>
<text x="496.7" y="201.76" font-size="6.0" text-anchor="middle" fill="#2a2a2a" font-weight="normal" stroke="#2a2a2a" stroke-width="0.1">4μg</text>
<text x="484.6" y="63.38" font-size="8.0" text-anchor="middle" fill="#1c1c1c" font-weight="normal" stroke="#1c1c1c" stroke-width="0.15">DC</text>
<text x="484.6" y="73.58" font-size="8.0" text-anchor="middle" fill="#1c1c1c" font-weight="normal" stroke="#1c1c1c" stroke-width="0.15">CD86</text>
<polyline points="471.0,114.4 471.0,108.6 496.7,108.6 496.7,114.4" fill="none" stroke="#1e1e1e" stroke-width="0.9" stroke-linejoin="round"/>
<text x="483.85" y="107.22" font-size="5.6" text-anchor="middle" fill="#222" font-weight="normal">ns</text>
<text transform="translate(436.3,134.4) rotate(-90)" x="0" y="0" font-size="6.2" text-anchor="middle" fill="#222" stroke="#222" stroke-width="0.22" textLength="44.9" lengthAdjust="spacingAndGlyphs">MFI (fold change)</text>
<circle cx="465.0" cy="121.0" r="1.3" fill="#1d4f8c"/>
<circle cx="469.3" cy="121.0" r="1.3" fill="#1d4f8c"/>
<circle cx="473.6" cy="121.0" r="1.3" fill="#1d4f8c"/>
<circle cx="478.2" cy="121.0" r="1.3" fill="#1d4f8c"/>
<line x1="496.7" y1="119.0" x2="496.7" y2="126.8" stroke="#7a4f2c" stroke-width="0.8"/>
<line x1="492.5" y1="119.0" x2="500.9" y2="119.0" stroke="#7a4f2c" stroke-width="0.8"/>
<line x1="492.5" y1="126.8" x2="500.9" y2="126.8" stroke="#7a4f2c" stroke-width="0.8"/>
<circle cx="493.2" cy="121.0" r="1.45" fill="#a95f22"/>
<circle cx="496.6" cy="119.6" r="1.45" fill="#a95f22"/>
<circle cx="500.4" cy="121.0" r="1.45" fill="#a95f22"/>
<circle cx="496.8" cy="124.5" r="1.45" fill="#a95f22"/>
<rect x="273.2" y="282.0" width="15.199999999999989" height="61.60000000000002" fill="#8e9bc2"/>
<rect x="298.0" y="271.4" width="15.600000000000023" height="72.20000000000005" fill="#e0ae7d"/>
<line x1="263.8" y1="249.8" x2="263.8" y2="343.6" stroke="#111" stroke-width="1.1"/>
<line x1="263.35" y1="343.6" x2="321.2" y2="343.6" stroke="#111" stroke-width="1.1"/>
<line x1="261.0" y1="343.6" x2="263.8" y2="343.6" stroke="#1a1a1a" stroke-width="0.8"/>
<text x="258.0" y="345.72" font-size="5.9" text-anchor="end" fill="#2a2a2a" font-weight="normal" stroke="#2a2a2a" stroke-width="0.08">0.0</text>
<line x1="261.0" y1="312.8" x2="263.8" y2="312.8" stroke="#1a1a1a" stroke-width="0.8"/>
<text x="258.0" y="314.92" font-size="5.9" text-anchor="end" fill="#2a2a2a" font-weight="normal" stroke="#2a2a2a" stroke-width="0.08">0.5</text>
<line x1="261.0" y1="282.1" x2="263.8" y2="282.1" stroke="#1a1a1a" stroke-width="0.8"/>
<text x="258.0" y="284.22" font-size="5.9" text-anchor="end" fill="#2a2a2a" font-weight="normal" stroke="#2a2a2a" stroke-width="0.08">1.0</text>
<line x1="261.0" y1="251.3" x2="263.8" y2="251.3" stroke="#1a1a1a" stroke-width="0.8"/>
<text x="258.0" y="253.42" font-size="5.9" text-anchor="end" fill="#2a2a2a" font-weight="normal" stroke="#2a2a2a" stroke-width="0.08">1.5</text>
<line x1="280.79999999999995" y1="343.6" x2="280.79999999999995" y2="345.8" stroke="#1a1a1a" stroke-width="0.8"/>
<line x1="305.8" y1="343.6" x2="305.8" y2="345.8" stroke="#1a1a1a" stroke-width="0.8"/>
<text x="280.79999999999995" y="355.26" font-size="6.0" text-anchor="middle" fill="#2a2a2a" font-weight="normal" stroke="#2a2a2a" stroke-width="0.1">CT</text>
<text x="305.8" y="355.26" font-size="6.0" text-anchor="middle" fill="#2a2a2a" font-weight="normal" textLength="10.8" lengthAdjust="spacingAndGlyphs" stroke="#2a2a2a" stroke-width="0.1">Mito</text>
<text x="305.8" y="363.06" font-size="6.0" text-anchor="middle" fill="#2a2a2a" font-weight="normal" stroke="#2a2a2a" stroke-width="0.1">4μg</text>
<text x="293.55" y="233.88" font-size="8.0" text-anchor="middle" fill="#1c1c1c" font-weight="normal" stroke="#1c1c1c" stroke-width="0.15">B cell</text>
<text x="293.55" y="243.48" font-size="8.0" text-anchor="middle" fill="#1c1c1c" font-weight="normal" stroke="#1c1c1c" stroke-width="0.15">MHC II</text>
<polyline points="280.3,276.2 280.3,252.4 305.6,252.4 305.6,257.6" fill="none" stroke="#1e1e1e" stroke-width="0.9" stroke-linejoin="round"/>
<text x="292.95000000000005" y="252.46" font-size="6" text-anchor="middle" fill="#222" font-weight="normal">**</text>
<text transform="translate(245.3,295.5) rotate(-90)" x="0" y="0" font-size="6.2" text-anchor="middle" fill="#222" stroke="#222" stroke-width="0.22" textLength="44.9" lengthAdjust="spacingAndGlyphs">MFI (fold change)</text>
<line x1="274.2" y1="282.35" x2="287.4" y2="282.35" stroke="#183f73" stroke-width="2.3" stroke-linecap="round"/>
<line x1="305.8" y1="266.8" x2="305.8" y2="276.5" stroke="#7a4f2c" stroke-width="0.8"/>
<line x1="301.6" y1="266.8" x2="310.0" y2="266.8" stroke="#7a4f2c" stroke-width="0.8"/>
<line x1="301.6" y1="276.5" x2="310.0" y2="276.5" stroke="#7a4f2c" stroke-width="0.8"/>
<circle cx="305.6" cy="263.2" r="1.45" fill="#a95f22"/>
<circle cx="298.5" cy="271" r="1.45" fill="#a95f22"/>
<circle cx="312.5" cy="271" r="1.45" fill="#a95f22"/>
<circle cx="303" cy="273.1" r="1.45" fill="#a95f22"/>
<circle cx="307.9" cy="272.9" r="1.45" fill="#a95f22"/>
<circle cx="305.2" cy="274.3" r="1.45" fill="#a95f22"/>
<circle cx="310" cy="273.7" r="1.45" fill="#a95f22"/>
<circle cx="305.2" cy="278" r="1.45" fill="#a95f22"/>
<circle cx="300.8" cy="273.5" r="1.45" fill="#a95f22"/>
<rect x="366.9" y="306.7" width="17.100000000000023" height="36.10000000000002" fill="#8e9bc2"/>
<rect x="393.8" y="286.7" width="16.399999999999977" height="56.10000000000002" fill="#e0ae7d"/>
<line x1="356.6" y1="249.7" x2="356.6" y2="342.8" stroke="#111" stroke-width="1.1"/>
<line x1="356.15000000000003" y1="342.8" x2="419.8" y2="342.8" stroke="#111" stroke-width="1.1"/>
<line x1="353.8" y1="342.8" x2="356.6" y2="342.8" stroke="#1a1a1a" stroke-width="0.8"/>
<text x="350.8" y="344.92" font-size="5.9" text-anchor="end" fill="#2a2a2a" font-weight="normal" stroke="#2a2a2a" stroke-width="0.08">0.0</text>
<line x1="353.8" y1="324.8" x2="356.6" y2="324.8" stroke="#1a1a1a" stroke-width="0.8"/>
<text x="350.8" y="326.92" font-size="5.9" text-anchor="end" fill="#2a2a2a" font-weight="normal" stroke="#2a2a2a" stroke-width="0.08">0.5</text>
<line x1="353.8" y1="306.7" x2="356.6" y2="306.7" stroke="#1a1a1a" stroke-width="0.8"/>
<text x="350.8" y="308.82" font-size="5.9" text-anchor="end" fill="#2a2a2a" font-weight="normal" stroke="#2a2a2a" stroke-width="0.08">1.0</text>
<line x1="353.8" y1="288.2" x2="356.6" y2="288.2" stroke="#1a1a1a" stroke-width="0.8"/>
<text x="350.8" y="290.32" font-size="5.9" text-anchor="end" fill="#2a2a2a" font-weight="normal" stroke="#2a2a2a" stroke-width="0.08">1.5</text>
<line x1="353.8" y1="269.6" x2="356.6" y2="269.6" stroke="#1a1a1a" stroke-width="0.8"/>
<text x="350.8" y="271.72" font-size="5.9" text-anchor="end" fill="#2a2a2a" font-weight="normal" stroke="#2a2a2a" stroke-width="0.08">2.0</text>
<line x1="353.8" y1="251.2" x2="356.6" y2="251.2" stroke="#1a1a1a" stroke-width="0.8"/>
<text x="350.8" y="253.32" font-size="5.9" text-anchor="end" fill="#2a2a2a" font-weight="normal" stroke="#2a2a2a" stroke-width="0.08">2.5</text>
<line x1="375.45" y1="342.8" x2="375.45" y2="345.0" stroke="#1a1a1a" stroke-width="0.8"/>
<line x1="402.0" y1="342.8" x2="402.0" y2="345.0" stroke="#1a1a1a" stroke-width="0.8"/>
<text x="375.45" y="354.46" font-size="6.0" text-anchor="middle" fill="#2a2a2a" font-weight="normal" stroke="#2a2a2a" stroke-width="0.1">CT</text>
<text x="402.0" y="354.46" font-size="6.0" text-anchor="middle" fill="#2a2a2a" font-weight="normal" textLength="10.8" lengthAdjust="spacingAndGlyphs" stroke="#2a2a2a" stroke-width="0.1">Mito</text>
<text x="402.0" y="362.26" font-size="6.0" text-anchor="middle" fill="#2a2a2a" font-weight="normal" stroke="#2a2a2a" stroke-width="0.1">4μg</text>
<text x="388.90000000000003" y="223.98" font-size="8.0" text-anchor="middle" fill="#1c1c1c" font-weight="normal" stroke="#1c1c1c" stroke-width="0.15">Monocyte/</text>
<text x="388.90000000000003" y="233.68" font-size="8.0" text-anchor="middle" fill="#1c1c1c" font-weight="normal" stroke="#1c1c1c" stroke-width="0.15">Macrophage</text>
<text x="388.90000000000003" y="242.98" font-size="8.0" text-anchor="middle" fill="#1c1c1c" font-weight="normal" stroke="#1c1c1c" stroke-width="0.15">MHC II</text>
<polyline points="375.3,303.8 375.3,260.3 402.0,260.3 402.0,265.2" fill="none" stroke="#1e1e1e" stroke-width="0.9" stroke-linejoin="round"/>
<text x="388.65" y="259.96" font-size="6" text-anchor="middle" fill="#222" font-weight="normal">*</text>
<text transform="translate(338.1,295.9) rotate(-90)" x="0" y="0" font-size="6.2" text-anchor="middle" fill="#222" stroke="#222" stroke-width="0.22" textLength="44.9" lengthAdjust="spacingAndGlyphs">MFI (fold change)</text>
<circle cx="369.3" cy="306.7" r="1.3" fill="#1d4f8c"/>
<circle cx="373.4" cy="306.7" r="1.3" fill="#1d4f8c"/>
<circle cx="377.6" cy="306.7" r="1.3" fill="#1d4f8c"/>
<circle cx="381.8" cy="306.7" r="1.3" fill="#1d4f8c"/>
<line x1="402.0" y1="275.5" x2="402.0" y2="296.0" stroke="#7a4f2c" stroke-width="0.8"/>
<line x1="397.8" y1="275.5" x2="406.2" y2="275.5" stroke="#7a4f2c" stroke-width="0.8"/>
<line x1="397.8" y1="296.0" x2="406.2" y2="296.0" stroke="#7a4f2c" stroke-width="0.8"/>
<circle cx="402.1" cy="271.0" r="1.45" fill="#a95f22"/>
<circle cx="399.2" cy="288.8" r="1.45" fill="#a95f22"/>
<circle cx="405.0" cy="290.6" r="1.45" fill="#a95f22"/>
<circle cx="402.1" cy="293.4" r="1.45" fill="#a95f22"/>
<rect x="463.6" y="281.9" width="16.599999999999966" height="60.900000000000034" fill="#8e9bc2"/>
<rect x="488.8" y="284.0" width="16.0" height="58.80000000000001" fill="#e0ae7d"/>
<line x1="455.4" y1="249.7" x2="455.4" y2="342.8" stroke="#111" stroke-width="1.1"/>
<line x1="454.95" y1="342.8" x2="513.4" y2="342.8" stroke="#111" stroke-width="1.1"/>
<line x1="452.59999999999997" y1="342.8" x2="455.4" y2="342.8" stroke="#1a1a1a" stroke-width="0.8"/>
<text x="449.59999999999997" y="344.92" font-size="5.9" text-anchor="end" fill="#2a2a2a" font-weight="normal" stroke="#2a2a2a" stroke-width="0.08">0.0</text>
<line x1="452.59999999999997" y1="312.6" x2="455.4" y2="312.6" stroke="#1a1a1a" stroke-width="0.8"/>
<text x="449.59999999999997" y="314.72" font-size="5.9" text-anchor="end" fill="#2a2a2a" font-weight="normal" stroke="#2a2a2a" stroke-width="0.08">0.5</text>
<line x1="452.59999999999997" y1="281.9" x2="455.4" y2="281.9" stroke="#1a1a1a" stroke-width="0.8"/>
<text x="449.59999999999997" y="284.02" font-size="5.9" text-anchor="end" fill="#2a2a2a" font-weight="normal" stroke="#2a2a2a" stroke-width="0.08">1.0</text>
<line x1="452.59999999999997" y1="251.2" x2="455.4" y2="251.2" stroke="#1a1a1a" stroke-width="0.8"/>
<text x="449.59999999999997" y="253.32" font-size="5.9" text-anchor="end" fill="#2a2a2a" font-weight="normal" stroke="#2a2a2a" stroke-width="0.08">1.5</text>
<line x1="471.9" y1="342.8" x2="471.9" y2="345.0" stroke="#1a1a1a" stroke-width="0.8"/>
<line x1="496.8" y1="342.8" x2="496.8" y2="345.0" stroke="#1a1a1a" stroke-width="0.8"/>
<text x="471.9" y="354.46" font-size="6.0" text-anchor="middle" fill="#2a2a2a" font-weight="normal" stroke="#2a2a2a" stroke-width="0.1">CT</text>
<text x="496.8" y="354.46" font-size="6.0" text-anchor="middle" fill="#2a2a2a" font-weight="normal" textLength="10.8" lengthAdjust="spacingAndGlyphs" stroke="#2a2a2a" stroke-width="0.1">Mito</text>
<text x="496.8" y="362.26" font-size="6.0" text-anchor="middle" fill="#2a2a2a" font-weight="normal" stroke="#2a2a2a" stroke-width="0.1">4μg</text>
<text x="484.9" y="232.78" font-size="8.0" text-anchor="middle" fill="#1c1c1c" font-weight="normal" stroke="#1c1c1c" stroke-width="0.15">DC</text>
<text x="484.9" y="241.38" font-size="8.0" text-anchor="middle" fill="#1c1c1c" font-weight="normal" stroke="#1c1c1c" stroke-width="0.15">MHC II</text>
<polyline points="471.3,276.1 471.3,266.6 496.8,266.6 496.8,271.5" fill="none" stroke="#1e1e1e" stroke-width="0.9" stroke-linejoin="round"/>
<text x="484.05" y="265.42" font-size="5.6" text-anchor="middle" fill="#222" font-weight="normal">ns</text>
<text transform="translate(436.9,295.5) rotate(-90)" x="0" y="0" font-size="6.2" text-anchor="middle" fill="#222" stroke="#222" stroke-width="0.22" textLength="44.9" lengthAdjust="spacingAndGlyphs">MFI (fold change)</text>
<circle cx="464.9" cy="281.9" r="1.3" fill="#1d4f8c"/>
<circle cx="469.0" cy="281.9" r="1.3" fill="#1d4f8c"/>
<circle cx="473.5" cy="281.9" r="1.3" fill="#1d4f8c"/>
<circle cx="478.4" cy="281.9" r="1.3" fill="#1d4f8c"/>
<line x1="496.8" y1="278.1" x2="496.8" y2="287.3" stroke="#7a4f2c" stroke-width="0.8"/>
<line x1="492.6" y1="278.1" x2="501.0" y2="278.1" stroke="#7a4f2c" stroke-width="0.8"/>
<line x1="492.6" y1="287.3" x2="501.0" y2="287.3" stroke="#7a4f2c" stroke-width="0.8"/>
<circle cx="496.8" cy="277.3" r="1.45" fill="#a95f22"/>
<circle cx="494.2" cy="283.1" r="1.45" fill="#a95f22"/>
<circle cx="499.4" cy="283.6" r="1.45" fill="#a95f22"/>
<circle cx="496.8" cy="286.5" r="1.45" fill="#a95f22"/>
<rect x="0.5" y="0.5" width="519" height="411" fill="none" stroke="#555" stroke-width="1"/>
</svg>
</body></html>
